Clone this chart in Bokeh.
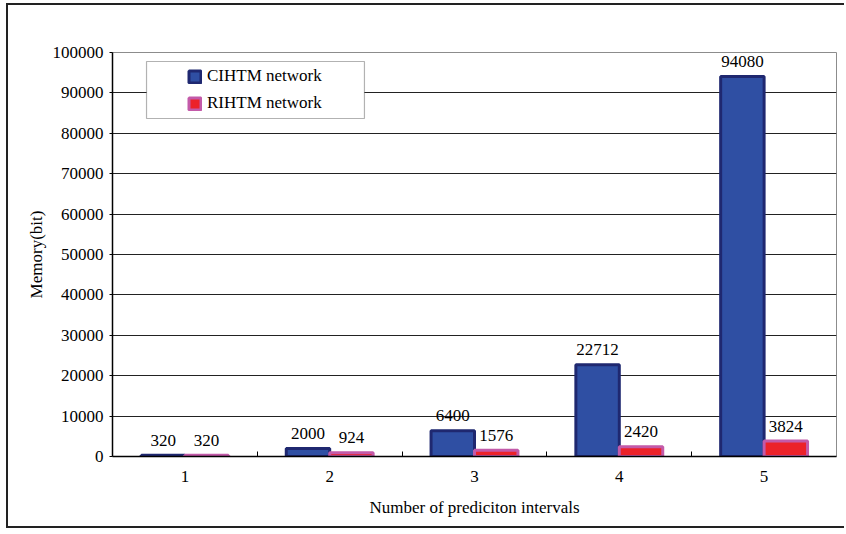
from bokeh.plotting import figure
from bokeh.models import (ColumnDataSource, FixedTicker, Legend, LegendItem,
                          BoxAnnotation, Range1d)
from bokeh.core.properties import value
from bokeh.transform import dodge
from bokeh.embed import file_html
from bokeh.resources import INLINE

# Memory needed by each network for a given number of prediction intervals
intervals = [1, 2, 3, 4, 5]
cihtm_bits = [320, 2000, 6400, 22712, 94080]
rihtm_bits = [320, 924, 1576, 2420, 3824]
y_ticks = [0, 10000, 20000, 30000, 40000, 50000, 60000, 70000, 80000, 90000, 100000]

FONT = "Liberation Serif"

src = ColumnDataSource(dict(
    x=intervals,
    cihtm=cihtm_bits,
    rihtm=rihtm_bits,
    cihtm_txt=[str(v) for v in cihtm_bits],
    rihtm_txt=[str(v) for v in rihtm_bits],
))

p = figure(width=838, height=525, output_backend="svg", toolbar_location=None,
           x_range=Range1d(0.5, 5.5), y_range=Range1d(0, 100000),
           min_border_left=104, min_border_right=10,
           min_border_top=47, min_border_bottom=74)

# frame drawn on the left, top and bottom of the chart
p.styles = {
    "margin-left": "6px",
    "margin-top": "3px",
    "border-left": "2px solid #222222",
    "border-top": "2px solid #222222",
    "border-bottom": "2px solid #222222",
}

p.background_fill_color = "white"
p.border_fill_color = "white"
p.outline_line_color = "#8c8c8c"
p.outline_line_width = 1

# bars
bw = 0.3
blue = p.vbar(x=dodge("x", -bw / 2, range=p.x_range), top="cihtm", width=bw,
              source=src, fill_color="#2f4fa3", line_color="#1f2870", line_width=3)
red = p.vbar(x=dodge("x", bw / 2, range=p.x_range), top="rihtm", width=bw,
             source=src, fill_color="#ec2229", line_color="#c35aa9", line_width=3)

# value labels above each bar
p.text(x=dodge("x", -bw / 2, range=p.x_range), y="cihtm", text="cihtm_txt", source=src,
       text_align="center", text_baseline="alphabetic", y_offset=-15,
       text_font=value(FONT), text_font_size="17px", text_color="black")
p.text(x=dodge("x", bw / 2, range=p.x_range), y="rihtm", text="rihtm_txt", source=src,
       text_align="center", text_baseline="alphabetic", y_offset=-15,
       text_font=value(FONT), text_font_size="17px", text_color="black")

# axes
p.xaxis.ticker = FixedTicker(ticks=intervals, minor_ticks=[1.5, 2.5, 3.5, 4.5])
p.xaxis.major_tick_in = 0
p.xaxis.major_tick_out = 0
p.xaxis.minor_tick_in = 5
p.xaxis.minor_tick_out = 0
p.xaxis.minor_tick_line_color = "black"
p.xaxis.major_label_standoff = 14
p.xaxis.axis_label = "Number of prediciton intervals"
p.xaxis.axis_label_standoff = 13

p.yaxis.ticker = FixedTicker(ticks=y_ticks)
p.yaxis.minor_tick_line_color = None
p.yaxis.major_tick_in = 0
p.yaxis.major_tick_out = 3
p.yaxis.major_label_standoff = 6
p.yaxis.axis_label = "Memory(bit)"
p.yaxis.axis_label_standoff = 4
p.yaxis.formatter.use_scientific = False

for ax in (p.xaxis, p.yaxis):
    ax.axis_line_color = "black"
    ax.axis_line_width = 1.5
    ax.major_tick_line_color = "black"
    ax.major_label_text_font = FONT
    ax.major_label_text_font_size = "17px"
    ax.major_label_text_color = "black"
    ax.axis_label_text_font = FONT
    ax.axis_label_text_font_size = "17px"
    ax.axis_label_text_font_style = "normal"
    ax.axis_label_text_color = "black"

p.xgrid.grid_line_color = None
p.ygrid.grid_line_color = "#222222"
p.ygrid.grid_line_width = 1

# legend frame
p.add_layout(BoxAnnotation(left=0.735, right=2.24, bottom=83660, top=97770,
                           fill_color="white", fill_alpha=1,
                           line_color="black", line_width=1.2))

legend = Legend(items=[LegendItem(label="CIHTM network", renderers=[blue]),
                       LegendItem(label="RIHTM network", renderers=[red])],
                location=(75, 343), padding=0, margin=0, spacing=7,
                glyph_width=15, glyph_height=15, label_height=20,
                label_standoff=5, border_line_color=None,
                background_fill_alpha=0,
                label_text_font=FONT, label_text_font_size="17px",
                label_text_color="black")
p.add_layout(legend, "center")

open("out.html", "w").write(file_html(p, INLINE))
